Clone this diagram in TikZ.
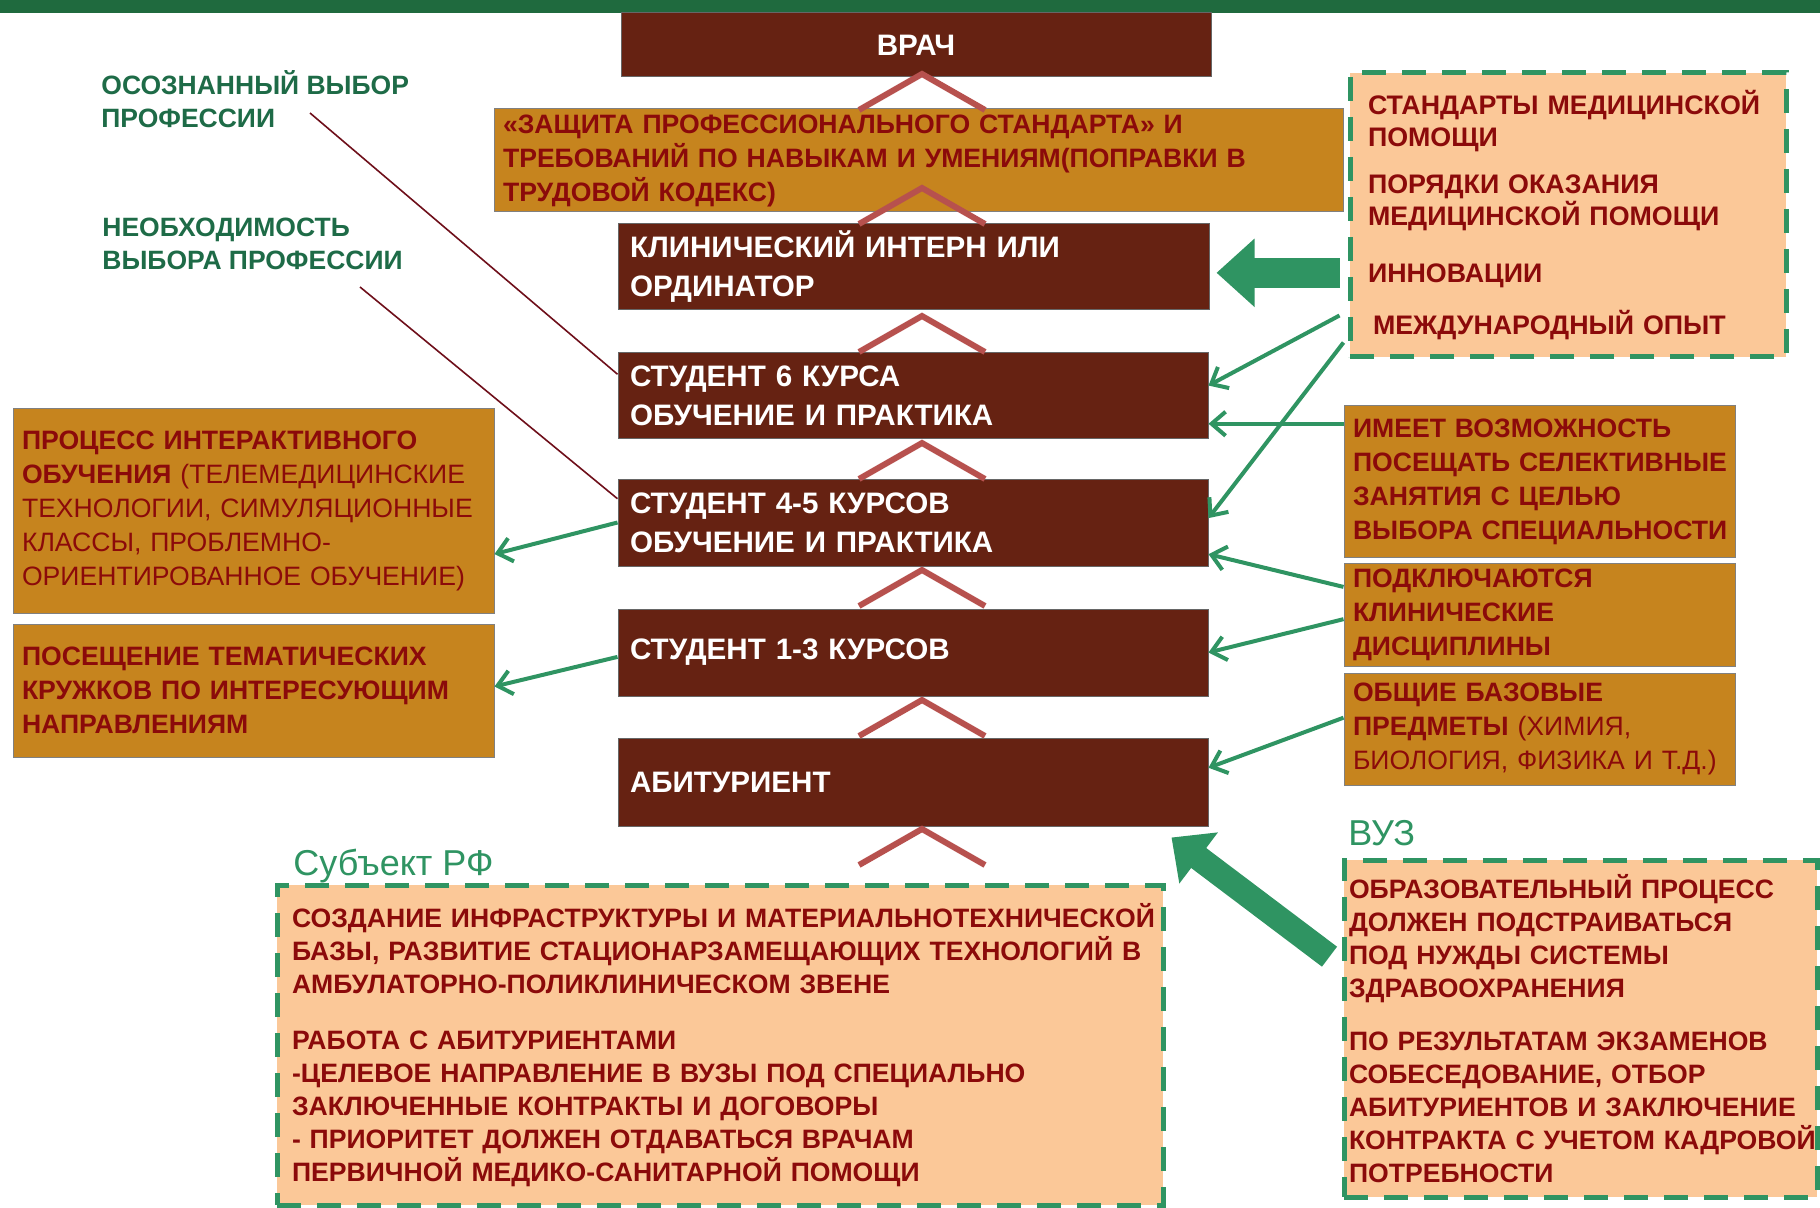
\documentclass[tikz,border=0pt]{standalone}
\usepackage{fontspec}
\setmainfont{Liberation Sans}
\usetikzlibrary{arrows.meta,calc}
\definecolor{topbar}{HTML}{1F6A3E}
\definecolor{brick}{HTML}{662212}
\definecolor{ochre}{HTML}{C6841E}
\definecolor{peach}{HTML}{FBC898}
\definecolor{leaf}{HTML}{2F9462}
\definecolor{pine}{HTML}{1E6B47}
\definecolor{wine}{HTML}{8B0A0A}
\definecolor{rust}{HTML}{B7514E}
\definecolor{wirered}{HTML}{6E0F1A}
\tikzset{
  stage/.style={fill=brick, draw=black!60, line width=0.5pt, text=white,
    font=\fontsize{14.8}{19.5}\selectfont\bfseries, align=left, inner xsep=6pt, inner ysep=0pt},
  note/.style={fill=ochre, draw=black!50, line width=0.5pt, text=wine,
    font=\fontsize{13.3}{17}\selectfont\bfseries, align=left, inner xsep=4.5pt, inner ysep=0pt},
  frame/.style={fill=peach, draw=leaf, line width=2.5pt, dash pattern=on 12pt off 8pt, text=wine,
    font=\fontsize{13.3}{16.5}\selectfont\bfseries, align=left, inner ysep=0pt},
  hint/.style={text=pine, font=\fontsize{13.25}{16.5}\selectfont\bfseries, align=left, anchor=west, inner sep=0pt},
  side/.style={text=leaf, font=\fontsize{18}{20}\selectfont, anchor=west, inner sep=0pt},
  chev/.style={draw=rust, line width=3pt},
  link/.style={draw=leaf, line width=2pt, -{Straight Barb[length=7pt,width=12pt]}},
  wire/.style={draw=wirered, line width=0.8pt},
  fat/.style={draw=leaf, line width=15pt, -{Triangle[length=19pt,width=33pt]}},
}

\begin{document}
\begin{tikzpicture}[x=0.5pt,y=-0.5pt]
  \useasboundingbox (0,0) rectangle (1820,1208);
  \fill[topbar] (0,0) rectangle (1820,13);

  % ladder of stages
  \node[stage, align=center, text width=283pt, minimum height=32pt] (vrach) at (916,45) {ВРАЧ};
  \node[note, text width=415.5pt, minimum height=51.5pt] (law) at (918.5,160.5)
    {«ЗАЩИТА ПРОФЕССИОНАЛЬНОГО СТАНДАРТА» И\\ТРЕБОВАНИЙ ПО НАВЫКАМ И УМЕНИЯМ(ПОПРАВКИ В\\ТРУДОВОЙ КОДЕКС)};
  \node[stage, text width=283.5pt, minimum height=43pt] (intern) at (913.5,267) {КЛИНИЧЕСКИЙ ИНТЕРН ИЛИ\\ОРДИНАТОР};
  \node[stage, text width=283pt, minimum height=43pt] (s6) at (913,396) {СТУДЕНТ 6 КУРСА\\ОБУЧЕНИЕ И ПРАКТИКА};
  \node[stage, text width=283pt, minimum height=43.5pt] (s45) at (913,522.5) {СТУДЕНТ 4-5 КУРСОВ\\ОБУЧЕНИЕ И ПРАКТИКА};
  \node[stage, text width=283pt, minimum height=43.5pt] (s13) at (913,652.5) {СТУДЕНТ 1-3 КУРСОВ};
  \node[stage, text width=283pt, minimum height=44pt] (abit) at (913,782) {АБИТУРИЕНТ};

  % left notes
  \node[note, text width=231.5pt, minimum height=102pt] (left1) at (253.5,511)
    {ПРОЦЕСС ИНТЕРАКТИВНОГО\\ОБУЧЕНИЯ \mdseries(ТЕЛЕМЕДИЦИНСКИЕ\\\mdseries ТЕХНОЛОГИИ, СИМУЛЯЦИОННЫЕ\\\mdseries КЛАССЫ, ПРОБЛЕМНО-\\\mdseries ОРИЕНТИРОВАННОЕ ОБУЧЕНИЕ)};
  \node[note, text width=231.5pt, minimum height=66.5pt] (left2) at (253.5,690.5)
    {ПОСЕЩЕНИЕ ТЕМАТИЧЕСКИХ\\КРУЖКОВ ПО ИНТЕРЕСУЮЩИМ\\НАПРАВЛЕНИЯМ};

  % right notes
  \node[note, text width=186.5pt, minimum height=75.5pt] (right1) at (1539.5,481.5)
    {\mbox{ИМЕЕТ ВОЗМОЖНОСТЬ}\\\mbox{ПОСЕЩАТЬ СЕЛЕКТИВНЫЕ}\\\mbox{ЗАНЯТИЯ С ЦЕЛЬЮ}\\\mbox{ВЫБОРА СПЕЦИАЛЬНОСТИ}};
  \node[note, text width=186.5pt, minimum height=51.5pt] (right2) at (1539.5,615)
    {ПОДКЛЮЧАЮТСЯ\\КЛИНИЧЕСКИЕ\\ДИСЦИПЛИНЫ};
  \node[note, text width=186.5pt, minimum height=56pt] (right3) at (1539.5,729)
    {ОБЩИЕ БАЗОВЫЕ\\ПРЕДМЕТЫ \mdseries(ХИМИЯ,\\\mdseries БИОЛОГИЯ, ФИЗИКА И Т.Д.)};

  % dashed frames
  \node[frame, inner xsep=9pt, text width=200pt, minimum height=142pt,
    font=\fontsize{13.4}{16}\selectfont\bfseries] (stdbox) at (1568,215)
    {СТАНДАРТЫ МЕДИЦИНСКОЙ\\ПОМОЩИ\\[7.5pt]ПОРЯДКИ ОКАЗАНИЯ\\МЕДИЦИНСКОЙ ПОМОЩИ\\[12.5pt]ИННОВАЦИИ\\[10pt]\hspace*{2.5pt}МЕЖДУНАРОДНЫЙ ОПЫТ};
  \node[frame, inner xsep=7.5pt, text width=428pt, minimum height=160pt] (region) at (720,1045)
    {\mbox{СОЗДАНИЕ ИНФРАСТРУКТУРЫ И МАТЕРИАЛЬНОТЕХНИЧЕСКОЙ}\\\mbox{БАЗЫ, РАЗВИТИЕ СТАЦИОНАРЗАМЕЩАЮЩИХ ТЕХНОЛОГИЙ В}\\АМБУЛАТОРНО-ПОЛИКЛИНИЧЕСКОМ ЗВЕНЕ\\[11.5pt]РАБОТА С АБИТУРИЕНТАМИ\\-ЦЕЛЕВОЕ НАПРАВЛЕНИЕ В ВУЗЫ ПОД СПЕЦИАЛЬНО\\ЗАКЛЮЧЕННЫЕ КОНТРАКТЫ И ДОГОВОРЫ\\- ПРИОРИТЕТ ДОЛЖЕН ОТДАВАТЬСЯ ВРАЧАМ\\ПЕРВИЧНОЙ МЕДИКО-САНИТАРНОЙ ПОМОЩИ};
  \node[frame, inner xsep=2.5pt, text width=231.5pt, minimum height=168.5pt] (vuz) at (1580.5,1028.5)
    {ОБРАЗОВАТЕЛЬНЫЙ ПРОЦЕСС\\ДОЛЖЕН ПОДСТРАИВАТЬСЯ\\ПОД НУЖДЫ СИСТЕМЫ\\ЗДРАВООХРАНЕНИЯ\\[10pt]ПО РЕЗУЛЬТАТАМ ЭКЗАМЕНОВ\\СОБЕСЕДОВАНИЕ, ОТБОР\\АБИТУРИЕНТОВ И ЗАКЛЮЧЕНИЕ\\\mbox{КОНТРАКТА С УЧЕТОМ КАДРОВОЙ}\\ПОТРЕБНОСТИ};

  % captions
  \node[hint] (choice1) at (101,99) {ОСОЗНАННЫЙ ВЫБОР\\ПРОФЕССИИ};
  \node[hint] (choice2) at (102,244) {НЕОБХОДИМОСТЬ\\ВЫБОРА ПРОФЕССИИ};
  \node[side] (subjlab) at (293,866) {Субъект РФ};
  \node[side] (vuzlab) at (1348,833) {ВУЗ};

  % chevrons between stages
  \foreach \y in {110,224,352,479,606,736,865}
    \draw[chev] (859,\y) -- (922,\y-36) -- (985,\y);

  % thin lines from captions
  \coordinate (w1) at (310,113);
  \coordinate (w2) at (360,287);
  \draw[wire] (w1) -- ($(s6.north west)!0.25!(s6.south west)$);
  \draw[wire] (w2) -- ($(s45.north west)!0.23!(s45.south west)$);

  % green links
  \draw[link] ($(stdbox.south west)+(-8,-44)$) -- ($(s6.north east)!0.38!(s6.south east)$);
  \draw[link] ($(stdbox.south west)+(-4,-17)$) -- ($(s45.north east)!0.45!(s45.south east)$);
  \coordinate (r1) at ($(right1.north west)!0.12!(right1.south west)$);
  \draw[link] (r1) -- (r1 -| s6.east);
  \draw[link] ($(right2.north west)!0.23!(right2.south west)$) -- ($(s45.north east)!0.86!(s45.south east)$);
  \draw[link] ($(right2.north west)!0.54!(right2.south west)$) -- (s13.east);
  \draw[link] ($(right3.north west)!0.40!(right3.south west)$) -- ($(abit.north east)!0.34!(abit.south east)$);
  \draw[link] (s45.west) -- ($(left1.north east)!0.71!(left1.south east)$);
  \draw[link] ($(s13.north west)!0.55!(s13.south west)$) -- ($(left2.north east)!0.47!(left2.south east)$);

  % block arrows
  \coordinate (stdtail) at ($(stdbox.south west)!0.3!(stdbox.north west)+(-8,0)$);
  \draw[fat] (stdtail) -- ($(stdtail -| intern.east)+(7,0)$);
  \coordinate (vuztail) at ($(vuz.north west)!0.29!(vuz.south west)+(-12,0)$);
  \draw[fat, line width=12.5pt, -{Triangle[length=17pt,width=31pt]}] (vuztail) -- ($(abit.south east)+(-37,11)$);
\end{tikzpicture}
\end{document}
